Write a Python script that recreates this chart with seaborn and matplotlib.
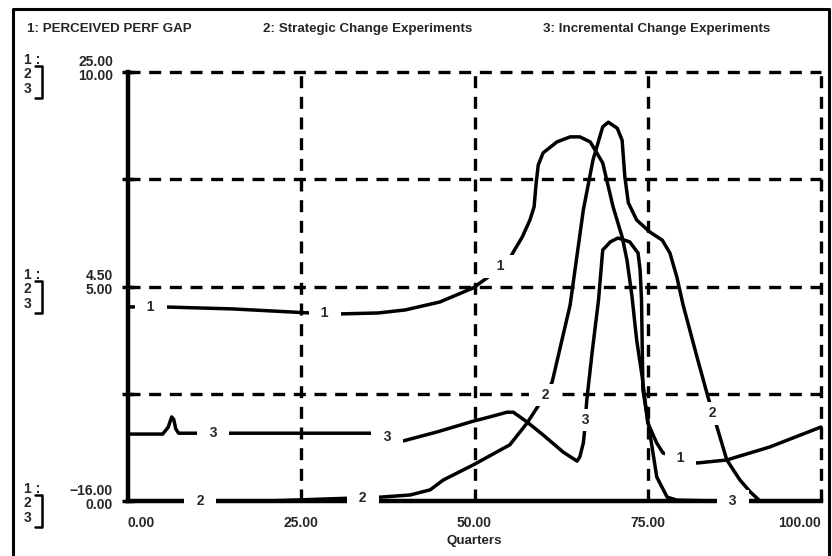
import matplotlib
matplotlib.use('Agg')
import matplotlib.pyplot as plt
import seaborn as sns
import numpy as np
from matplotlib import font_manager
from matplotlib.lines import Line2D

# ---------------- data ----------------
quarters_gap = [0, 5.0, 15.0, 26.3, 30.6, 36.1, 40.0, 45.0, 49.8, 51.8, 55.1, 56.9, 58.0, 58.6,
                58.9, 59.2, 59.9, 61.9, 63.8, 65.2, 66.7, 68.5, 70.0, 71.3, 72.0, 72.7, 73.4,
                74.2, 75.0, 76.3, 77.2, 82.1, 86.4, 92.6, 100]
perceived_perf_gap = [2.55, 2.55, 2.36, 1.97, 1.88, 1.97, 2.26, 3.02, 4.36, 5.32, 7.23, 9.24, 10.86,
                      12.11, 14.40, 16.12, 17.27, 18.32, 18.80, 18.80, 18.32, 16.31, 12.11, 9.24,
                      7.04, 3.69, -0.61, -4.15, -8.54, -10.46, -11.41, -12.37, -12.08, -10.84, -8.93]

quarters_strat = [0, 20, 36.4, 40.7, 43.6, 45.5, 49.8, 55.1, 57.6, 59.0, 60.2, 61.2, 63.8, 65.7,
                  67.1, 68.5, 69.3, 70.6, 71.3, 71.7, 72.2, 73.4, 75.3, 77.1, 78.2, 79.2, 80.1,
                  82.1, 83.7, 85.0, 86.4, 88.3, 89.8, 91.2, 100]
strategic_change = [0, 0, 0.09, 0.14, 0.26, 0.49, 0.84, 1.31, 1.82, 2.17, 2.47, 2.77, 4.57, 6.78,
                    7.95, 8.72, 8.83, 8.69, 8.41, 7.55, 6.95, 6.55, 6.27, 6.08, 5.78, 5.22, 4.57,
                    3.36, 2.42, 1.72, 0.96, 0.49, 0.21, 0, 0]

quarters_incr = [0, 5.0, 5.8, 6.3, 6.6, 6.9, 7.3, 10.7, 35.2, 37.5, 39.7, 44.6, 49.8, 52.2, 54.7,
                 55.6, 57.6, 59.9, 62.8, 64.8, 65.2, 65.7, 65.9, 66.2, 67.0, 67.9, 68.5, 69.6,
                 70.7, 72.4, 73.6, 73.9, 74.1, 74.3, 75.3, 76.3, 77.8, 79.2, 85.0, 100]
incremental_change = [1.56, 1.56, 1.72, 1.96, 1.90, 1.68, 1.58, 1.58, 1.58, 1.50, 1.40, 1.61, 1.86,
                      1.96, 2.07, 2.07, 1.84, 1.54, 1.14, 0.93, 1.03, 1.35, 1.65, 2.35, 3.50, 4.69,
                      5.85, 6.04, 6.13, 6.04, 5.78, 5.38, 4.69, 2.59, 1.59, 0.56, 0.09, 0.02, 0, 0]

series_titles = ['1: PERCEIVED PERF GAP', '2: Strategic Change Experiments',
                 '3: Incremental Change Experiments']
x_ticks = [0, 25, 50, 75, 100]
x_tick_labels = ['0.00', '25.00', '50.00', '75.00', '100.00']
gap_range = (-16, 25)
exp_range = (0, 10)
y_ticks = [0, 2.5, 5, 7.5, 10]
y_tick_labels = {0: ('\u221216.00', '0.00'), 5: ('4.50', '5.00'), 10: ('25.00', '10.00')}
label_t_gap = [3.3, 28.4, 53.7, 79.7]
label_t_strat = [10.4, 33.9, 60.2, 84.4]
label_t_incr = [12.3, 37.4, 66.0, 87.3]
x_title = 'Quarters'

# ---------------- style ----------------
sns.set_theme(style='white')
avail = {f.name for f in font_manager.fontManager.ttflist}
narrow = 'Liberation Sans Narrow' in avail
fam = 'Liberation Sans Narrow' if narrow else 'Liberation Sans'
plt.rcParams['font.family'] = [fam, 'DejaVu Sans']
plt.rcParams['font.weight'] = 'bold'
HEAD_FS = 11 if narrow else 9.6
TICK_FS = 10.5 if narrow else 10
LAB_FS = 10.5 if narrow else 10

W, H, DPI = 832, 556, 100
fig = plt.figure(figsize=(W / DPI, H / DPI), dpi=DPI)
fig.patch.set_facecolor('white')

def fx(px):
    return px / W

def fy(py):
    return 1 - py / H

X0, X1, Y0, Y1 = 128, 821, 501, 72
ax = fig.add_axes([fx(X0), fy(Y0), (X1 - X0) / W, (Y0 - Y1) / H])
ax.set_facecolor('none')
ax2 = ax.twinx()
ax2.set_facecolor('none')

LW = 2.5
sns.lineplot(x=quarters_strat, y=strategic_change, ax=ax, color='black', lw=LW,
             sort=False, estimator=None, zorder=4)
sns.lineplot(x=quarters_incr, y=incremental_change, ax=ax, color='black', lw=LW,
             sort=False, estimator=None, zorder=4)
sns.lineplot(x=quarters_gap, y=perceived_perf_gap, ax=ax2, color='black', lw=LW,
             sort=False, estimator=None, zorder=4)
for a in (ax, ax2):
    for ln in a.lines:
        ln.set_clip_on(False)

ax.set_xlim(0, 100)
ax.set_ylim(*exp_range)
ax2.set_ylim(*gap_range)

# grid
dash = (0, (3.6, 2.6))
for xv in x_ticks[1:]:
    ax.axvline(xv, color='black', lw=2.4, ls=dash, clip_on=False, zorder=1)
for yv in y_ticks[1:]:
    ax.axhline(yv, color='black', lw=2.4, ls=dash, clip_on=False, zorder=1)

# spines
for s in ['top', 'right']:
    ax.spines[s].set_visible(False)
for s in ax2.spines.values():
    s.set_visible(False)
ax.spines['left'].set_linewidth(3.2)
ax.spines['bottom'].set_linewidth(3.2)
ax.spines['left'].set_color('black')
ax.spines['bottom'].set_color('black')
ax.spines['left'].set_zorder(7)

ax.set_xticks(x_ticks)
ax.set_xticklabels(x_tick_labels, fontsize=TICK_FS, fontweight='bold')
tl = ax.get_xticklabels()
tl[0].set_ha('left')
tl[-1].set_ha('right')
ax.set_yticks(y_ticks)
ax.set_yticklabels([])
ax.tick_params(axis='both', direction='inout', length=9, width=2.5, color='black', pad=6)
ax2.set_yticks([])
ax.set_xlabel(x_title, fontsize=9.6, fontweight='bold', labelpad=4)
ax.set_ylabel('')

# y labels (two scales)
for lvl, (top_lab, bot_lab) in y_tick_labels.items():
    ax.annotate(top_lab, xy=(0, lvl), xycoords=ax.get_yaxis_transform(), xytext=(-15, 10),
                textcoords='offset pixels', ha='right', va='center', fontsize=TICK_FS,
                fontweight='bold', annotation_clip=False)
    ax.annotate(bot_lab, xy=(0, lvl), xycoords=ax.get_yaxis_transform(), xytext=(-15, -4),
                textcoords='offset pixels', ha='right', va='center', fontsize=TICK_FS,
                fontweight='bold', annotation_clip=False)

# series labels on curves
box = dict(boxstyle='square,pad=0.3', fc='white', ec='none')
def put_labels(a, ts, xs, ys, txt):
    for t in ts:
        v = np.interp(t, xs, ys)
        a.text(t, v, '  ' + txt + '  ', ha='center', va='center', fontsize=LAB_FS,
               fontweight='bold', bbox=box, zorder=6, clip_on=False)

put_labels(ax, label_t_strat, quarters_strat, strategic_change, '2')
put_labels(ax, label_t_incr, quarters_incr, incremental_change, '3')
put_labels(ax2, label_t_gap, quarters_gap, perceived_perf_gap, '1')

# headers
fig.text(fx(27), fy(29), series_titles[0], ha='left', va='center', fontsize=HEAD_FS, fontweight='bold')
fig.text(fx(263), fy(29), series_titles[1], ha='left', va='center', fontsize=HEAD_FS, fontweight='bold')
fig.text(fx(543), fy(29), series_titles[2], ha='left', va='center', fontsize=HEAD_FS, fontweight='bold')

# scale legend brackets
for g in (72, 287, 501):
    fig.text(fx(24), fy(g - 12), '1 :', ha='left', va='center', fontsize=LAB_FS, fontweight='bold')
    fig.text(fx(24), fy(g + 2), '2', ha='left', va='center', fontsize=LAB_FS, fontweight='bold')
    fig.text(fx(24), fy(g + 17), '3', ha='left', va='center', fontsize=LAB_FS, fontweight='bold')
    fig.add_artist(Line2D([fx(35), fx(42), fx(42), fx(35)],
                          [fy(g - 6), fy(g - 6), fy(g + 26), fy(g + 26)],
                          color='black', lw=1.8, transform=fig.transFigure))

# outer frame
fig.add_artist(Line2D([fx(13), fx(13), fx(829), fx(829)], [fy(560), fy(9), fy(9), fy(560)],
                      color='black', lw=2.2, transform=fig.transFigure))

fig.savefig('out.png', dpi=DPI, facecolor='white')
